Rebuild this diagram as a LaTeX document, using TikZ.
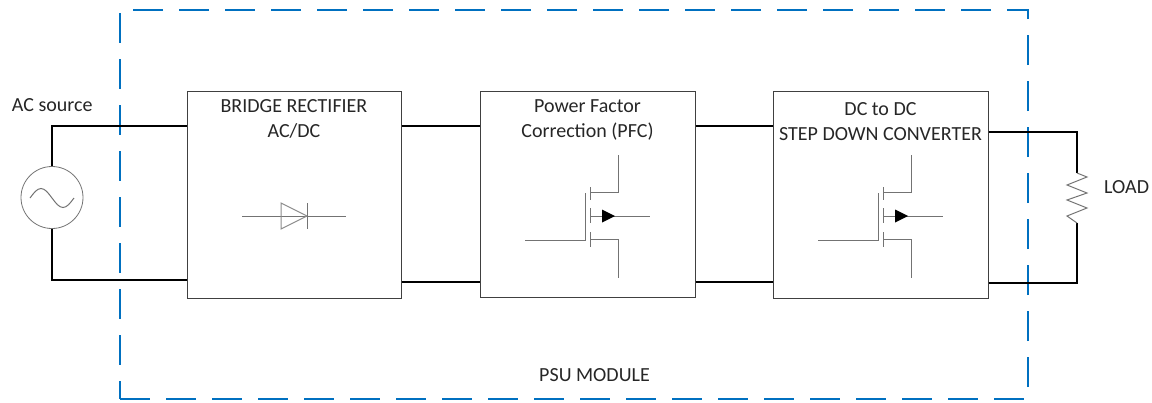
\documentclass[tikz,border=0pt]{standalone}
\usepackage{fontspec}
\setmainfont{Carlito}
\definecolor{psublue}{RGB}{0,112,192}
\tikzset{
  mosfet/.pic={
    \draw[symline] (-65,24) -- (-5,24) -- (-5,-23);
    \draw[symline] (0,-29) -- (0,-16) (0,-8) -- (0,7) (0,16) -- (0,31);
    \draw[symline] (0,-24) -- (28,-24) -- (28,-61);
    \draw[symline] (0,23) -- (28,23) -- (28,62);
    \draw[symline] (0,0) -- (60,0);
    \fill[black] (12,-6.5) -- (12,6.5) -- (25,0) -- cycle;
  }
}
\begin{document}
\begin{tikzpicture}[x=1pt,y=-1pt,
  wire/.style={line width=2pt, black},
  blockbox/.style={draw=black!75, line width=1pt, rectangle, inner sep=0pt},
  symline/.style={draw=black!55, line width=1pt},
  psubox/.style={draw=psublue, line width=1.8pt, dash pattern=on 30pt off 16pt, rectangle, inner sep=0pt},
  lbl/.style={font=\fontsize{20}{25}\selectfont, text=black!85, inner sep=0pt, align=center}]
\useasboundingbox (0,0) rectangle (1152,402);

% PSU module frame
\node[psubox, minimum width=908pt, minimum height=389pt] (psu) at (574,204.5) {};
\node[lbl, anchor=base] (psulbl) at (594.5,381) {PSU MODULE};

% blocks
\node[blockbox, minimum width=214pt, minimum height=207pt] (b1) at (294,194.5) {};
\node[blockbox, minimum width=215pt, minimum height=206pt] (b2) at (587.5,194) {};
\node[blockbox, minimum width=215pt, minimum height=207pt] (b3) at (880.5,194.5) {};

\node[lbl, anchor=north] (t1) at (294,99) {BRIDGE RECTIFIER\\AC/DC};
\node[lbl, anchor=north] (t2) at (587.5,99) {Power Factor\\Correction (PFC)};
\node[lbl, anchor=north] (t3) at (880.5,102) {DC to DC\\STEP DOWN CONVERTER};

% diode
\draw[symline] (242,216) -- (346,216);
\draw[symline, draw=black!45] (281,203) -- (281,229) -- (307,216) -- cycle;
\draw[symline] (307,203) -- (307,229);

% mosfets
\pic at (590,216) {mosfet};
\pic at (883,216) {mosfet};

% AC source
\node[draw=black!55, line width=0.8pt, circle, minimum size=62pt, inner sep=0pt] (ac) at (52,197.5) {};
\draw[symline] (30,198) sin (41,188.5) cos (52,198) sin (63,207.5) cos (74,198);
\node[lbl, anchor=base west] (aclbl) at (11.7,111.7) {AC source};

% wires
\coordinate (actop) at (52,126);
\coordinate (acbot) at (52,280);
\coordinate (ybot) at (0,282);
\draw[wire] (ac.north) -- (actop) -- (b1.west |- actop);
\draw[wire] (ac.south) -- (acbot) -- (b1.west |- acbot);
\draw[wire] (b1.east |- actop) -- (b2.west |- actop);
\draw[wire] (b1.east |- ybot) -- (b2.west |- ybot);
\draw[wire] (b2.east |- actop) -- (b3.west |- actop);
\draw[wire] (b2.east |- ybot) -- (b3.west |- ybot);

% load
\coordinate (rtc) at (1077,131.5);
\coordinate (rbc) at (1077,283);
\coordinate (rtop) at (1077,173);
\coordinate (rbot) at (1077,223);
\draw[wire] (b3.east |- rtc) -- (rtc) -- (rtop);
\draw[wire] (b3.east |- rbc) -- (rbc) -- (rbot);
\draw[symline] (rtop) -- (1087,177) -- (1067,185) -- (1087,193) -- (1067,200) -- (1087,208) -- (1067,216) -- (rbot);
\node[lbl, anchor=base west] (loadlbl) at (1104,193) {LOAD};
\end{tikzpicture}
\end{document}
